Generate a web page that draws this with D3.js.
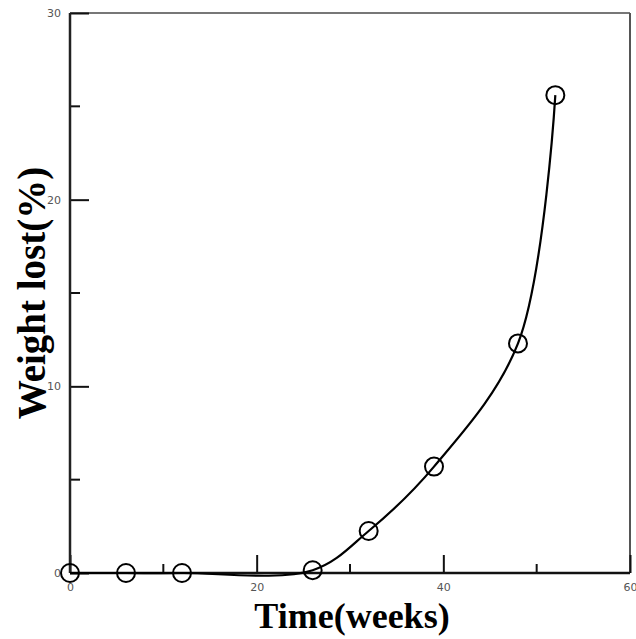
<!DOCTYPE html>
<html>
<head>
<meta charset="utf-8">
<script src="https://cdn.jsdelivr.net/npm/d3@7"></script>
<style>
  body { margin: 0; background: #fff; }
  .tick text { font-family: "DejaVu Sans", sans-serif; font-size: 11px; fill: #555; }
  .title { font-family: "Liberation Serif", "Times New Roman", serif; font-weight: bold; fill: #000; }
</style>
</head>
<body>
<svg id="chart"></svg>
<script>
"use strict"

// weeks vs weight lost (%)
const weeks = [0, 6, 12, 26, 32, 39, 48, 52]
const weightLost = [0, 0, 0, 0.15, 2.25, 5.7, 12.3, 25.6]
const xTicks = [0, 20, 40, 60]
const yTicks = [0, 10, 20, 30]

const width = 636, height = 639
const margin = { top: 13, right: 6, bottom: 66, left: 70 }

const svg = d3.select("#chart")
    .attr("width", width)
    .attr("height", height)

const x = d3.scaleLinear().domain([0, 60]).range([margin.left, width - margin.right])
const y = d3.scaleLinear().domain([0, 30]).range([height - margin.bottom, margin.top])

// frame (top / right lighter)
svg.append("line")
    .attr("x1", x(0)).attr("x2", x(60)).attr("y1", y(30)).attr("y2", y(30))
    .attr("stroke", "#777").attr("stroke-width", 2)
svg.append("line")
    .attr("x1", x(60)).attr("x2", x(60)).attr("y1", y(30)).attr("y2", y(0))
    .attr("stroke", "#555").attr("stroke-width", 2)

// inward ticks: major + minor
const xMinor = d3.range(0, 61, 10).filter(v => !xTicks.includes(v))
const yMinor = d3.range(0, 31, 5).filter(v => !yTicks.includes(v))

const xAxis = svg.append("g")
    .attr("transform", "translate(0," + y(0) + ")")
    .call(d3.axisBottom(x).tickValues(xTicks).tickSize(-18).tickPadding(10))
xAxis.select(".domain").remove()
xAxis.selectAll(".tick line").attr("stroke", "#111").attr("stroke-width", 2)

svg.append("g")
    .selectAll("line")
    .data(xMinor)
    .join("line")
        .attr("x1", d => x(d)).attr("x2", d => x(d))
        .attr("y1", y(0)).attr("y2", y(0) - 9)
        .attr("stroke", "#111").attr("stroke-width", 2)

const yAxis = svg.append("g")
    .attr("transform", "translate(" + x(0) + ",0)")
    .call(d3.axisLeft(y).tickValues(yTicks).tickSize(-19).tickPadding(9))
yAxis.select(".domain").remove()
yAxis.selectAll(".tick line").attr("stroke", "#111").attr("stroke-width", 2)

svg.append("g")
    .selectAll("line")
    .data(yMinor)
    .join("line")
        .attr("x1", x(0)).attr("x2", x(0) + 10)
        .attr("y1", d => y(d)).attr("y2", d => y(d))
        .attr("stroke", "#111").attr("stroke-width", 2)

// main axis lines
svg.append("line")
    .attr("x1", x(0)).attr("x2", x(60)).attr("y1", y(0)).attr("y2", y(0))
    .attr("stroke", "#111").attr("stroke-width", 2.5)
svg.append("line")
    .attr("x1", x(0)).attr("x2", x(0)).attr("y1", y(30)).attr("y2", y(0))
    .attr("stroke", "#222").attr("stroke-width", 2.5)

// curve
const points = weeks.map((w, i) => [w, weightLost[i]])
const line = d3.line()
    .x(d => x(d[0]))
    .y(d => y(d[1]))
    .curve(d3.curveCatmullRom.alpha(0.5))

svg.append("path")
    .datum(points)
    .attr("d", line)
    .attr("fill", "none")
    .attr("stroke", "#000")
    .attr("stroke-width", 2.2)

svg.append("g")
    .selectAll("circle")
    .data(points)
    .join("circle")
        .attr("cx", d => x(d[0]))
        .attr("cy", d => y(d[1]))
        .attr("r", 9)
        .attr("fill", "none")
        .attr("stroke", "#000")
        .attr("stroke-width", 2)

// axis titles
svg.append("text")
    .attr("class", "title")
    .attr("x", 352)
    .attr("y", 628)
    .attr("text-anchor", "middle")
    .style("font-size", "36px")
    .text("Time(weeks)")

svg.append("text")
    .attr("class", "title")
    .attr("transform", "translate(45,293) rotate(-90)")
    .attr("text-anchor", "middle")
    .style("font-size", "39px")
    .text("Weight lost(%)")
</script>
</body>
</html>
